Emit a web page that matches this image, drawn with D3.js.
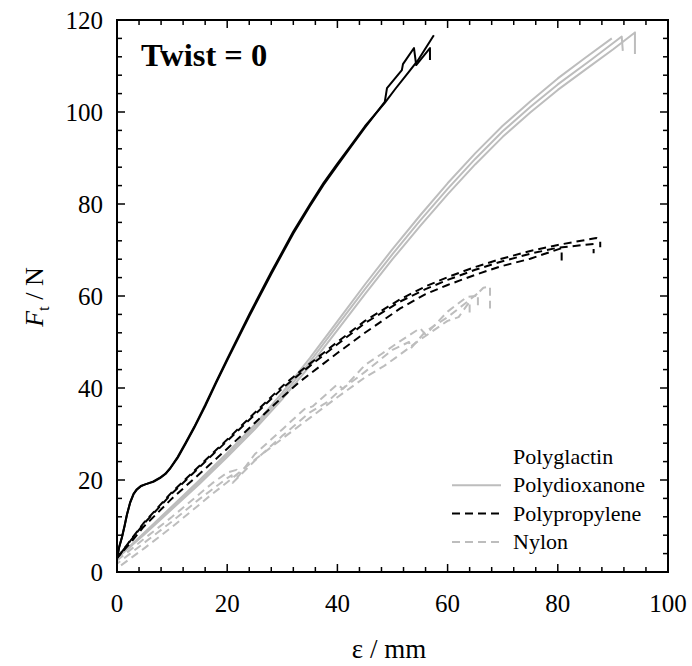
<!DOCTYPE html>
<html>
<head>
<meta charset="utf-8">
<script src="https://cdn.jsdelivr.net/npm/d3@7"></script>
<style>
  body { margin: 0; background: #fff; }
  text { font-family: "Liberation Serif", "Times New Roman", serif; fill: #000; }
</style>
</head>
<body>
<svg id="chart" width="692" height="666"></svg>
<script>
// extension (mm) vs tensile force (N), twist = 0
var polyglactin1 = [[0,3],[0.4,5.5],[0.9,7.6],[1.4,10.2],[1.8,12.4],[2.4,15.2],[3,17],[3.6,18],[4.3,18.7],[5,19],[6.6,19.6],[7.8,20.4],[8.8,21.3],[9.6,22.4],[11,24.8],[12.5,28],[14,31.3],[16,36],[18,41.1],[20,46],[24,55.6],[28,64.8],[32,73.6],[35,79.5],[37.5,84.2],[40,88.4],[42.5,92.5],[45,96.6],[48.6,102.2],[49,105.2],[51.7,109.1],[51.9,110.4],[53.9,113.9],[54.3,110.2],[56.8,113.9],[56.8,111.3]]
var polyglactin2 = [[0,3],[0.4,5.4],[0.9,7.5],[1.4,10.1],[1.8,12.5],[2.4,15.1],[3,16.9],[3.6,17.9],[4.3,18.6],[5,19],[6.6,19.7],[7.8,20.5],[8.8,21.4],[9.6,22.5],[11,25],[12.5,28.2],[14,31.5],[16,36.3],[18,41.4],[20,46.3],[24,56],[28,65.2],[32,74],[35,79.9],[37.5,84.6],[40,88.8],[42.5,92.8],[45,96.9],[48.6,102],[50.5,105],[53,108.8],[54.6,111.2],[57.5,116.7]]
var polydioxanone1 = [[0,3],[5,8.6],[10,14.3],[15,20],[20,25.9],[25,32],[30,39],[35,46.5],[40,54.5],[45,62.5],[50,70.2],[55,77.5],[60,84.5],[65,91],[70,97],[75,102.3],[80,107.3],[85,111.8],[89.8,116]]
var polydioxanone2 = [[0,3],[5,8.4],[10,14],[15,19.6],[20,25.5],[25,31.5],[30,38.3],[35,45.7],[40,53.6],[45,61.5],[50,69.1],[55,76.4],[60,83.3],[65,89.8],[70,95.8],[75,101.1],[80,106],[86,111.3],[91.6,116.4],[91.8,113.3]]
var polydioxanone3 = [[0,3],[5,8.2],[10,13.7],[15,19.2],[20,25],[25,31],[30,37.6],[35,44.8],[40,52.6],[45,60.4],[50,68],[55,75.2],[60,82.1],[65,88.6],[70,94.6],[75,99.9],[80,104.8],[85,109.2],[90,113.6],[94,117.3],[94,112.6]]
var polypropylene1 = [[0,3],[2.5,7],[4.8,10.6],[10,17.4],[16.9,25.3],[20,28.8],[25,34.6],[30,40.4],[33.2,43.6],[40,50],[45,54.6],[51.4,59.3],[56,62.1],[60,64.1],[65,66.3],[69.5,68],[75,69.8],[80,71.1],[87,72.6],[87.7,72.1],[87.7,70.6]]
var polypropylene2 = [[0,3],[2.5,6.9],[4.8,10.4],[10,17.1],[16.9,25],[20,28.5],[25,34.2],[30,39.9],[33.2,43.1],[40,49.5],[45,54.1],[51.4,58.8],[56,61.5],[60,63.5],[65,65.7],[69.5,67.4],[75,69.2],[80,70.5],[86.5,71.3],[86.5,69.3]]
var polypropylene3 = [[0,3],[2.5,6.4],[4.8,9.8],[10,16],[16.9,23.4],[20,26.8],[25,32.4],[30,38],[33.2,41.4],[40,47.6],[45,52],[51.4,57.3],[56,60.4],[60,62.4],[65,64.6],[69.5,66.4],[75,68.1],[80.7,70.4],[80.7,67.5]]
var nylon1 = [[0,2.5],[5,7.3],[10,12],[15,17],[17.2,19.2],[20,21.6],[21.7,22.2],[21.9,20.6],[25,25.6],[30,31],[34,35.4],[35.5,36],[40,40.8],[41,39.8],[45,45],[48,47.4],[51.4,50.2],[55,53],[56,51.6],[60,56.6],[63.5,59.8],[65,60],[66.5,61.8],[67.7,62],[67.7,57.3]]
var nylon2 = [[0,1.8],[5,6.4],[10,11],[15,15.9],[20,20.4],[20.8,21],[21,19.4],[25,24.2],[30,29.6],[35,34.7],[38,36.8],[40,39],[45,43.5],[50,48.3],[53,50],[53.3,48.6],[56,52.3],[60,55.4],[63,58.2],[65.5,60.6],[65.5,57.5]]
var nylon3 = [[0,0.8],[5,5.2],[10,9.8],[15,14.7],[16.9,16.6],[20,19.5],[25,24.4],[30,29],[35,33.5],[40,38],[45,42.3],[48.5,44.8],[51.4,47.3],[55,50.5],[60,54.6],[62,55.4],[64,58.8],[64,55.6]]

var xTicks = [0, 20, 40, 60, 80, 100]
var yTicks = [0, 20, 40, 60, 80, 100, 120]
var legendNames = ["Polyglactin", "Polydioxanone", "Polypropylene", "Nylon"]

var grey = "#bdbdbd"

var svg = d3.select("#chart")
var plotL = 117, plotT = 20, plotR = 668, plotB = 572

var x = d3.scaleLinear().domain([0, 100]).range([plotL, plotR])
var y = d3.scaleLinear().domain([0, 120]).range([plotB, plotT])

var line = d3.line()
    .x(function(d) { return x(d[0]) })
    .y(function(d) { return y(d[1]) })

var series = [
    {data: polyglactin1, color: "#000", dash: null, off: 0},
    {data: polyglactin2, color: "#000", dash: null, off: 0},
    {data: polydioxanone1, color: grey, dash: null, off: 0},
    {data: polydioxanone2, color: grey, dash: null, off: 0},
    {data: polydioxanone3, color: grey, dash: null, off: 0},
    {data: nylon1, color: grey, dash: "8,5", off: 0},
    {data: nylon2, color: grey, dash: "8,5", off: 4},
    {data: nylon3, color: grey, dash: "8,5", off: 8},
    {data: polypropylene1, color: "#000", dash: "8,5", off: 0},
    {data: polypropylene2, color: "#000", dash: "8,5", off: 6},
    {data: polypropylene3, color: "#000", dash: "8,5", off: 3}
]

svg.append("g").selectAll("path")
    .data(series)
    .join("path")
    .attr("d", function(d) { return line(d.data) })
    .attr("fill", "none")
    .attr("stroke", function(d) { return d.color })
    .attr("stroke-width", 2)
    .attr("stroke-linejoin", "round")
    .attr("stroke-dasharray", function(d) { return d.dash })
    .attr("stroke-dashoffset", function(d) { return d.off })

// frame
svg.append("rect")
    .attr("x", plotL).attr("y", plotT)
    .attr("width", plotR - plotL).attr("height", plotB - plotT)
    .attr("fill", "none").attr("stroke", "#000").attr("stroke-width", 2)

// inward ticks on all four sides, minor every 4
var xMinor = d3.range(0, 101, 4)
var yMinor = d3.range(0, 121, 4)
var ticks = svg.append("g").attr("stroke", "#000").attr("stroke-width", 1.5)
xMinor.forEach(function(v) {
    var len = v % 20 == 0 ? 8 : 5
    ticks.append("line").attr("x1", x(v)).attr("x2", x(v)).attr("y1", plotB).attr("y2", plotB - len)
    ticks.append("line").attr("x1", x(v)).attr("x2", x(v)).attr("y1", plotT).attr("y2", plotT + len)
})
yMinor.forEach(function(v) {
    var len = v % 20 == 0 ? 8 : 5
    ticks.append("line").attr("y1", y(v)).attr("y2", y(v)).attr("x1", plotL).attr("x2", plotL + len)
    ticks.append("line").attr("y1", y(v)).attr("y2", y(v)).attr("x1", plotR).attr("x2", plotR - len)
})

svg.append("g").selectAll("text")
    .data(xTicks)
    .join("text")
    .attr("x", function(d) { return x(d) })
    .attr("y", 612)
    .attr("text-anchor", "middle")
    .attr("font-size", 25)
    .text(function(d) { return d })

svg.append("g").selectAll("text")
    .data(yTicks)
    .join("text")
    .attr("x", 103)
    .attr("y", function(d) { return y(d) + 9 })
    .attr("text-anchor", "end")
    .attr("font-size", 25)
    .text(function(d) { return d })

// axis titles
svg.append("text")
    .attr("x", 389).attr("y", 658)
    .attr("text-anchor", "middle")
    .attr("font-size", 27)
    .text("ε / mm")

var yt = svg.append("text")
    .attr("transform", "translate(43," + 297 + ") rotate(-90)")
    .attr("text-anchor", "middle")
    .attr("font-size", 26)
yt.append("tspan").attr("font-style", "italic").text("F")
yt.append("tspan").attr("font-size", 17).attr("dy", 6).text("t")
yt.append("tspan").attr("dy", -6).text(" / N")

svg.append("text")
    .attr("x", 141).attr("y", 66)
    .attr("font-size", 32.5)
    .attr("font-weight", "bold")
    .text("Twist = 0")

// legend (Polyglactin shows no sample line)
var legendStyle = [null, {color: grey, dash: null}, {color: "#000", dash: "8,5"}, {color: grey, dash: "8,5"}]
var lg = svg.append("g")
legendNames.forEach(function(name, i) {
    var ly = 457 + i * 28.3
    if (legendStyle[i]) {
        lg.append("line")
            .attr("x1", 452).attr("x2", 501)
            .attr("y1", ly).attr("y2", ly)
            .attr("stroke", legendStyle[i].color)
            .attr("stroke-width", 2)
            .attr("stroke-dasharray", legendStyle[i].dash)
    }
    lg.append("text")
        .attr("x", 513).attr("y", ly + 7)
        .attr("font-size", 22)
        .text(name)
})
</script>
</body>
</html>
